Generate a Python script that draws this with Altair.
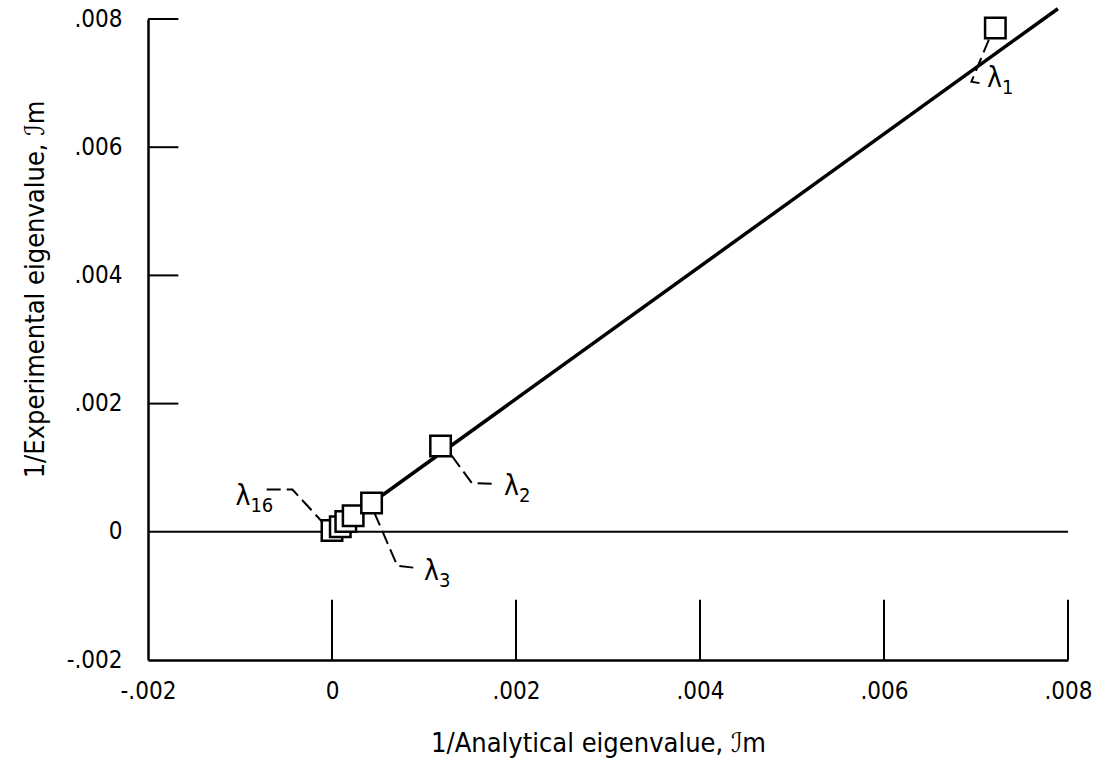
import altair as alt
import pandas as pd

# Eigenvalue comparison: 1/analytical vs 1/experimental (imaginary parts)
analytical = [0.00000, 0.00009, 0.00015, 0.00023, 0.00043, 0.00118, 0.00721]
experimental = [0.00002, 0.00008, 0.00016, 0.00025, 0.00045, 0.00134, 0.00786]

# Fitted line through the data
fit_x = [0.00043, 0.00789]
fit_y = [0.00045, 0.00816]

# Axis extent and tick values
lo, hi = -0.002, 0.008
tick_vals = [0.0, 0.002, 0.004, 0.006, 0.008]
y_tick_vals = [0.002, 0.004, 0.006, 0.008]
x_tick_len = 0.00094
y_tick_len = 0.00033

# Mode labels (lambda + subscript) and their leader lines (data units)
label_sub = ["1", "2", "3", "16"]
label_x = [0.00712, 0.00187, 0.00100, -0.00105]
label_y = [0.00707, 0.00070, -0.00063, 0.00055]

leader_id = ["l1", "l1", "l1", "l2", "l2", "l2", "l3", "l3", "l3", "l16", "l16", "l16"]
leader_seq = [0, 1, 2, 0, 1, 2, 0, 1, 2, 0, 1, 2]
leader_x = [0.00714, 0.00695, 0.00708,
            0.00130, 0.00152, 0.00174,
            0.00046, 0.00071, 0.00089,
            -0.00071, -0.00043, -0.00011]
leader_y = [0.00768, 0.00702, 0.00699,
            0.00119, 0.00076, 0.00075,
            0.00030, -0.00053, -0.00056,
            0.00066, 0.00066, 0.00016]

FONT = "DejaVu Sans Condensed, Liberation Sans, sans-serif"

xs = alt.Scale(domain=[lo, hi], nice=False, zero=False)
ys = alt.Scale(domain=[lo, hi], nice=False, zero=False)

label_expr = ("datum.value == 0 ? '0' : "
              "replace(replace(format(datum.value, '.3f'), '0.', '.'), '\u2212', '-')")

pts = pd.DataFrame({"a": analytical, "e": experimental, "k": list(range(len(analytical)))})
fit = pd.DataFrame({"a": fit_x, "e": fit_y})
zero = pd.DataFrame({"a": [lo], "a2": [hi], "e": [0.0]})
xt = pd.DataFrame({"a": tick_vals, "e": [lo] * len(tick_vals), "e2": [lo + x_tick_len] * len(tick_vals)})
yt = pd.DataFrame({"e": y_tick_vals, "a": [lo] * len(y_tick_vals), "a2": [lo + y_tick_len] * len(y_tick_vals)})
labels = pd.DataFrame({"sub": label_sub, "a": label_x, "e": label_y})
leaders = pd.DataFrame({"id": leader_id, "s": leader_seq, "a": leader_x, "e": leader_y})

# Base layer carries the axes and the zero line
axes = alt.Chart(zero).mark_rule(color="black", strokeWidth=2).encode(
    x=alt.X("a:Q", scale=xs, axis=alt.Axis(
        values=[lo] + tick_vals, labelExpr=label_expr, ticks=False, grid=False,
        domainColor="black", domainWidth=2.5, labelFont=FONT, labelFontSize=24,
        labelColor="black", labelPadding=19, labelFlush=False,
        title="1/Analytical eigenvalue,  ℐm", titleFont=FONT, titleFontSize=27,
        titleFontWeight="normal", titleColor="black", titleX=450, titleY=83,
        titleBaseline="middle")),
    x2="a2:Q",
    y=alt.Y("e:Q", scale=ys, axis=alt.Axis(
        values=[lo, 0.0] + y_tick_vals, labelExpr=label_expr, ticks=False, grid=False,
        domainColor="black", domainWidth=2.5, labelFont=FONT, labelFontSize=24,
        labelColor="black", labelPadding=26, labelFlush=False,
        title="1/Experimental eigenvalue,  ℐm", titleFont=FONT, titleFontSize=27,
        titleFontWeight="normal", titleColor="black", titleX=-113, titleY=270,
        titleBaseline="middle")),
)

# Inward-pointing tick marks
xticks = alt.Chart(xt).mark_rule(color="black", strokeWidth=2).encode(
    x=alt.X("a:Q", scale=xs), y=alt.Y("e:Q", scale=ys), y2="e2:Q")
yticks = alt.Chart(yt).mark_rule(color="black", strokeWidth=2).encode(
    y=alt.Y("e:Q", scale=ys), x=alt.X("a:Q", scale=xs), x2="a2:Q")

fit_line = alt.Chart(fit).mark_line(color="black", strokeWidth=3.5).encode(
    x=alt.X("a:Q", scale=xs), y=alt.Y("e:Q", scale=ys))

leader_lines = alt.Chart(leaders).mark_line(
    color="black", strokeWidth=2, strokeDash=[14, 6]).encode(
    x=alt.X("a:Q", scale=xs), y=alt.Y("e:Q", scale=ys),
    detail="id:N", order="s:Q")

squares = alt.Chart(pts).mark_point(
    shape="square", size=420, filled=False, fill="white", fillOpacity=1,
    stroke="black", strokeWidth=2.5, opacity=1).encode(
    x=alt.X("a:Q", scale=xs), y=alt.Y("e:Q", scale=ys), order="k:Q")

lam = alt.Chart(labels).mark_text(
    align="left", baseline="middle", font=FONT, fontSize=28, color="black").encode(
    x=alt.X("a:Q", scale=xs), y=alt.Y("e:Q", scale=ys), text=alt.value("λ"))
sub = alt.Chart(labels).mark_text(
    align="left", baseline="middle", font=FONT, fontSize=20, color="black",
    dx=15, dy=9).encode(
    x=alt.X("a:Q", scale=xs), y=alt.Y("e:Q", scale=ys), text="sub:N")

chart = alt.layer(
    axes, xticks, yticks, fit_line, leader_lines, squares, lam, sub
).properties(
    width=920, height=641,
    autosize=alt.AutoSizeParams(type="none"),
    padding={"left": 148, "top": 19, "right": 31, "bottom": 102},
    background="white",
).configure_view(stroke=None)

chart.save("out.html", embed_options={"renderer": "svg", "actions": False})
